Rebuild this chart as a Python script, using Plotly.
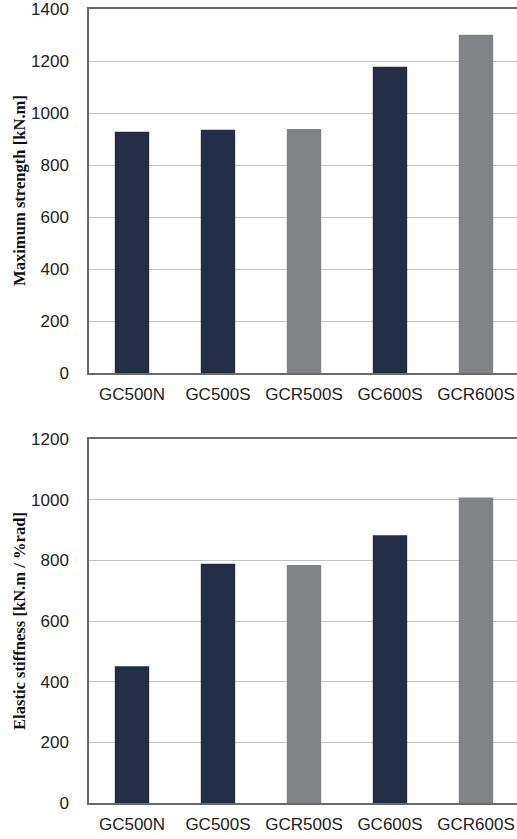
import plotly.graph_objects as go
from plotly.subplots import make_subplots

# Specimen names and measured values
specimens = ["GC500N", "GC500S", "GCR500S", "GC600S", "GCR600S"]
max_strength = [928, 936, 938, 1178, 1301]      # kN.m
elastic_stiffness = [451, 789, 785, 883, 1007]  # kN.m / %rad

# Plain columns are dark, retrofitted (GCR) columns are gray
navy = "#232e46"
gray = "#828387"
bar_colors = [navy, navy, gray, navy, gray]

fig = make_subplots(rows=2, cols=1, vertical_spacing=0.0)

fig.add_trace(go.Bar(x=specimens, y=max_strength, marker=dict(color=bar_colors, line=dict(width=0)),
                     width=0.4, showlegend=False), row=1, col=1)
fig.add_trace(go.Bar(x=specimens, y=elastic_stiffness, marker=dict(color=bar_colors, line=dict(width=0)),
                     width=0.4, showlegend=False), row=2, col=1)

W, H = 517, 839
left, top, bottom = 89, 9, 36
plot_h = H - top - bottom
top_domain = [(H - bottom - 373) / plot_h, 1.0]
bot_domain = [0.0, (H - bottom - 439) / plot_h]

tick_font = dict(family="Liberation Sans, Arial, sans-serif", size=17, color="#222222")
title_font = dict(family="Liberation Serif, Times New Roman, serif", size=16.6, color="#111111")

common_x = dict(
    type="category", range=[-0.5, 4.477], showline=True, mirror=True,
    linecolor="#6a6a6a", linewidth=1.8, ticks="", tickfont=tick_font,
    ticklabelstandoff=5, showgrid=False, zeroline=False, fixedrange=True,
)
common_y = dict(
    showline=True, mirror=False, linecolor="#6a6a6a", linewidth=1.5,
    ticks="", tickfont=tick_font, ticklabelstandoff=15, ticklabeloverflow="allow",
    showgrid=True, gridcolor="#c4c4c4", gridwidth=1.3, zeroline=False,
)

fig.update_xaxes(**common_x)
fig.update_yaxes(**common_y)
fig.update_yaxes(range=[0, 1400], dtick=200, domain=top_domain, row=1, col=1)
fig.update_yaxes(range=[0, 1200], dtick=200, domain=bot_domain, row=2, col=1)

for yref, text in [("y domain", "Maximum strength [kN.m]"),
                   ("y2 domain", "Elastic stiffness [kN.m / %rad]")]:
    fig.add_annotation(
        text=f"<b>{text}</b>", textangle=-90, font=title_font, showarrow=False,
        xref="paper", x=0, xshift=-(left - 19), xanchor="center",
        yref=yref, y=0.5, yanchor="middle",
    )

fig.update_layout(
    width=W, height=H,
    margin=dict(l=left, r=0, t=top, b=bottom, autoexpand=False),
    paper_bgcolor="white", plot_bgcolor="white",
    bargap=0.6,
)

fig.write_html("out.html")
